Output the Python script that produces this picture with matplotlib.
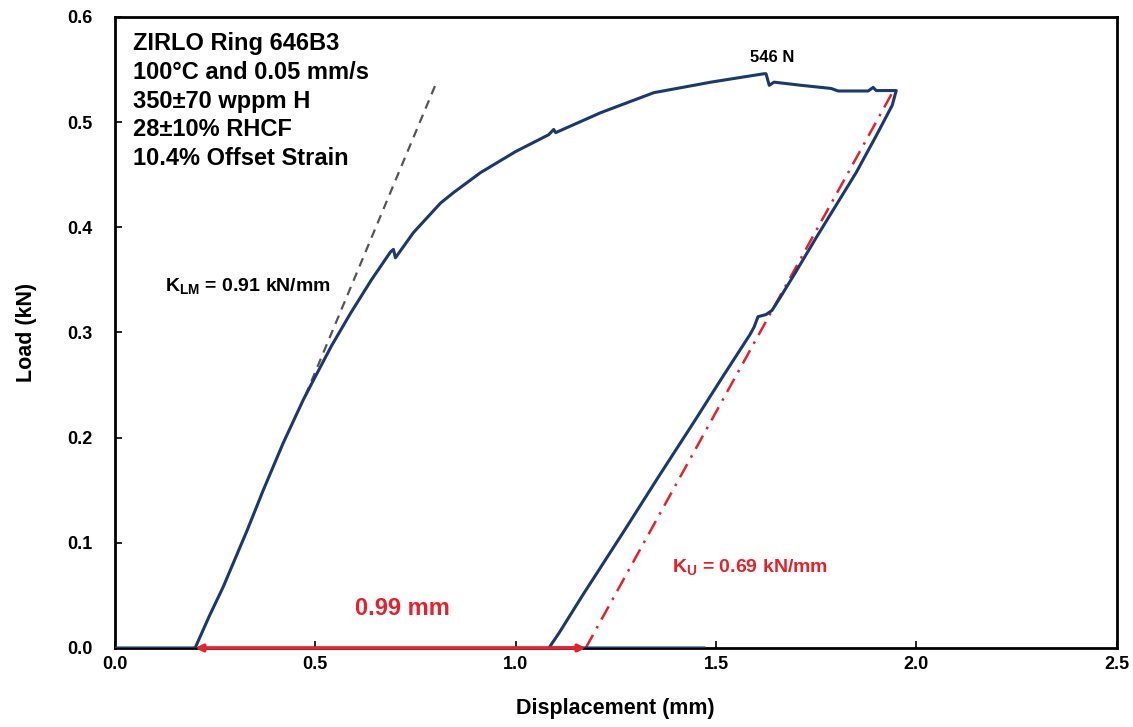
import matplotlib
matplotlib.use("Agg")
import matplotlib.pyplot as plt

plt.rcParams["font.family"] = ["Liberation Sans", "DejaVu Sans"]
plt.rcParams["font.weight"] = "bold"
plt.rcParams["mathtext.fontset"] = "custom"
plt.rcParams["mathtext.rm"] = "Liberation Sans:bold"
plt.rcParams["mathtext.it"] = "Liberation Sans:bold"
plt.rcParams["mathtext.bf"] = "Liberation Sans:bold"

# Ring compression test record: displacement (mm) vs load (kN)
disp = [0.0, 0.195, 0.20, 0.235, 0.27, 0.30, 0.33, 0.37, 0.42, 0.47, 0.50,
        0.54, 0.5875, 0.64, 0.6875, 0.695, 0.70, 0.745, 0.8125, 0.845,
        0.9125, 1.00, 1.0825, 1.095, 1.10, 1.2125, 1.345, 1.4875, 1.57,
        1.62, 1.625, 1.633, 1.645, 1.7125, 1.7875, 1.805, 1.88, 1.8925,
        1.90, 1.95,
        1.94, 1.90, 1.85, 1.80, 1.75, 1.70, 1.66, 1.64, 1.625, 1.605,
        1.595, 1.585, 1.517, 1.447, 1.357, 1.272, 1.167, 1.108, 1.083, 1.47]
load = [0.0, 0.0, 0.0, 0.03, 0.058, 0.085, 0.112, 0.150, 0.195, 0.236, 0.258,
        0.287, 0.318, 0.350, 0.3765, 0.379, 0.371, 0.395, 0.423, 0.433,
        0.452, 0.472, 0.488, 0.493, 0.490, 0.509, 0.528, 0.538, 0.543,
        0.546, 0.546, 0.535, 0.538, 0.535, 0.532, 0.5296, 0.5296, 0.533,
        0.530, 0.530,
        0.516, 0.487, 0.452, 0.421, 0.390, 0.358, 0.333, 0.321, 0.317, 0.315,
        0.305, 0.298, 0.258, 0.216, 0.163, 0.112, 0.050, 0.014, 0.0, 0.0]

peak_load_n = 546
k_lm = 0.91          # loading modulus, kN/mm
k_u = 0.69           # unloading modulus, kN/mm
x_start = 0.20       # start of loading, mm
offset = 0.99        # permanent offset displacement, mm
y_end = 0.53         # load at start of unloading, kN

info_lines = ["ZIRLO Ring 646B3", "100°C and 0.05 mm/s", "350±70 wppm H",
              "28±10% RHCF", "10.4% Offset Strain"]

navy = "#1B3A6B"
red = "#E8202A"

fig = plt.figure(figsize=(11.33, 7.27), dpi=100)
ax = fig.add_axes([0.1015, 0.1087, 0.884, 0.868])

# tangent to the loading branch
lm_x0 = 0.2115
lm_y = [0.24, 0.535]
ax.plot([lm_x0 + y / k_lm for y in lm_y], lm_y, color="#555555", lw=1.6,
        ls=(0, (4, 3)), zorder=2)

# unloading line
u_x0 = x_start + offset - 0.015
u_y = [0.0, y_end]
ax.plot([u_x0 + y / k_u for y in u_y], u_y, color=red, lw=1.8,
        ls=(0, (6, 3, 1, 3)), zorder=2)

ax.plot(disp, load, color=navy, lw=2.2, zorder=3, solid_joinstyle="round")

# offset arrow
ax.annotate("", xy=(x_start, 0.0), xytext=(u_x0, 0.0),
            arrowprops=dict(arrowstyle="<|-|>", color=red, lw=2.6,
                            mutation_scale=10, shrinkA=0, shrinkB=0),
            zorder=4, annotation_clip=False)

ax.text(0.7175, 0.038, f"{offset:.2f} mm", color=red, fontsize=17,
        fontweight="bold", ha="center", va="center")
ax.text(1.39, 0.077, f"K$_{{U}}$ = {k_u:.2f} kN/mm", color=red, fontsize=14,
        fontweight="bold", ha="left", va="center")
ax.text(0.125, 0.344, f"K$_{{LM}}$ = {k_lm:.2f} kN/mm", color="black",
        fontsize=14, fontweight="bold", ha="left", va="center")
ax.text(1.64, 0.561, f"{peak_load_n} N", color="black", fontsize=12,
        fontweight="bold", ha="center", va="center")

for i, line in enumerate(info_lines):
    ax.text(0.045, 0.575 - i * 0.0275, line, fontsize=17, fontweight="bold",
            ha="left", va="center")

ax.set_xlim(0, 2.5)
ax.set_ylim(0, 0.6)
ax.set_xticks([0.0, 0.5, 1.0, 1.5, 2.0, 2.5])
ax.set_yticks([0.0, 0.1, 0.2, 0.3, 0.4, 0.5, 0.6])
ax.xaxis.set_major_formatter(matplotlib.ticker.FormatStrFormatter("%.1f"))
ax.yaxis.set_major_formatter(matplotlib.ticker.FormatStrFormatter("%.1f"))
ax.tick_params(direction="in", length=5, width=1.2, labelsize=13)
ax.tick_params(axis="x", pad=6)
ax.tick_params(axis="y", pad=16)
for lbl in ax.get_xticklabels() + ax.get_yticklabels():
    lbl.set_fontweight("bold")
for sp in ax.spines.values():
    sp.set_linewidth(2.0)

ax.set_xlabel("Displacement (mm)", fontsize=15.5, fontweight="bold", labelpad=18)
ax.set_ylabel("Load (kN)", fontsize=15.5, fontweight="bold", labelpad=22)

fig.savefig("out.png", dpi=100)
